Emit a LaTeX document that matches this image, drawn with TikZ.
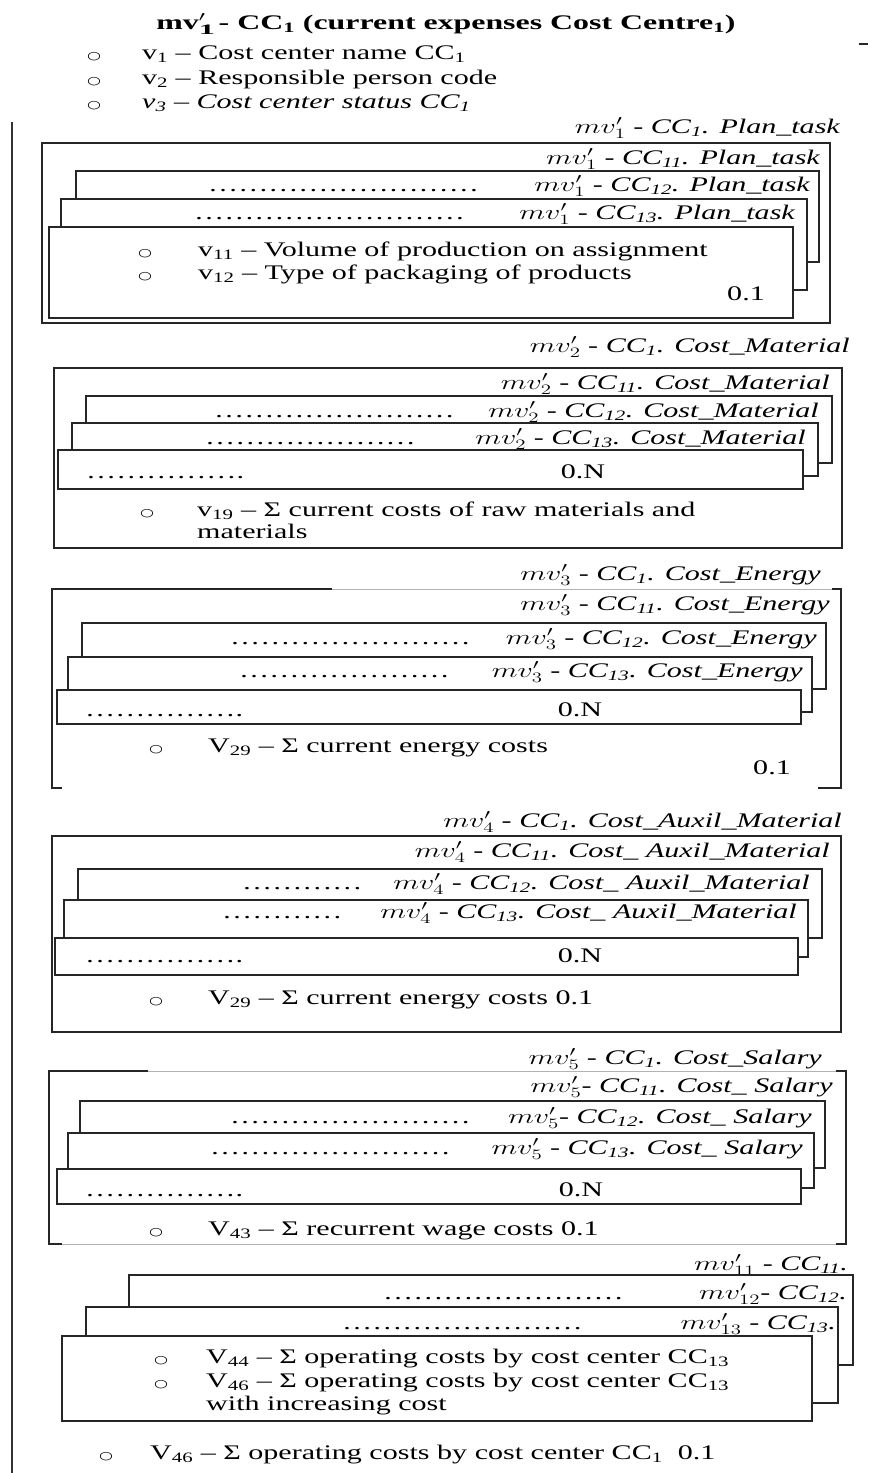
\documentclass[tikz,border=0pt]{standalone}
\usepackage{fontspec}
\usepackage{graphicx}
\setmainfont{Liberation Serif}[FakeStretch=1.45]
\newfontfamily\symfont{DejaVu Sans}[FakeStretch=1.45]
\newcommand{\mvp}[1]{\scalebox{1.45}[1]{$mv'_{#1}$}}
\newcommand{\lo}[1]{\textsubscript{#1}}
\newcommand{\bul}{{\symfont\fontsize{11}{11}\selectfont ○}}
\newcommand{\dotsrow}[1]{\foreach \k in {1,...,#1}{…}}
\tikzset{
  card/.style={draw=black!85, line width=1.1pt, fill=white},
  frame/.style={draw=black!85, line width=1.1pt},
  faint/.style={draw=black!30, line width=0.9pt},
  lbl/.style={inner sep=0pt, anchor=base east, font=\huge\itshape},
  txt/.style={inner sep=0pt, anchor=base west, font=\huge},
  bull/.style={inner sep=0pt, anchor=base}
}
\begin{document}
\begin{tikzpicture}[x=1pt, y=-1pt]
\useasboundingbox (0,0) rectangle (871,1473);

% Cabecera
\node[txt, anchor=base, font=\huge\bfseries] (title) at (446,29)
  {\scalebox{1.06}[1]{mv\scalebox{1.45}[1]{$'_{\mathbf{1}}$} - CC\lo{1} (current expenses Cost Centre\lo{1})}};
\node[bull] (b1) at (94,59) {\bul};
\node[txt] (v1) at (142,59) {v\lo{1} -- Cost center name CC\lo{1}};
\node[bull] (b2) at (94,84) {\bul};
\node[txt] (v2) at (142,84) {v\lo{2} -- Responsible person code};
\node[bull] (b3) at (94,108) {\bul};
\node[txt, font=\huge\itshape] (v3) at (142,108) {v\lo{3} -- Cost center status CC\lo{1}};
\draw[frame] (859,44) -- (868,44);

% Linea vertical
\draw[draw=black!80, line width=1.5pt] (12,122) -- (12,1473);

% Plan_task
\node[lbl] (pt) at (840,133) {\mvp{1} - CC\lo{1}. Plan\_task};
\draw[frame] (42,143) rectangle (830,323);
\node[lbl] (pt11) at (820,164) {\mvp{1} - CC\lo{11}. Plan\_task};
\draw[card] (76,171) rectangle (819,262);
\node[txt] (ptd12) at (208,191) {\dotsrow{9}};
\node[lbl] (pt12) at (810,191) {\mvp{1} - CC\lo{12}. Plan\_task};
\draw[card] (61,199) rectangle (807,290);
\node[txt] (ptd13) at (194,219) {\dotsrow{9}};
\node[lbl] (pt13) at (795,219) {\mvp{1} - CC\lo{13}. Plan\_task};
\draw[card] (49,227) rectangle (793,318);
\node[bull] (pb1) at (145,256) {\bul};
\node[txt] (v11) at (198,256) {v\lo{11} -- Volume of production on assignment};
\node[bull] (pb2) at (145,279) {\bul};
\node[txt] (v12) at (198,279) {v\lo{12} -- Type of packaging of products};
\node[txt, anchor=base east] (pt01) at (765,300) {0.1};

% Cost_Material
\node[lbl] (cm) at (850,352) {\mvp{2} - CC\lo{1}. Cost\_Material};
\draw[frame] (54,368) rectangle (842,548);
\node[lbl] (cm11) at (830,389) {\mvp{2} - CC\lo{11}. Cost\_Material};
\draw[card] (86,396) rectangle (832,463);
\node[txt] (cmd12) at (214,417) {\dotsrow{8}};
\node[lbl] (cm12) at (819,417) {\mvp{2} - CC\lo{12}. Cost\_Material};
\draw[card] (72,423) rectangle (818,476);
\node[txt] (cmd13) at (205,444) {\dotsrow{7}};
\node[lbl] (cm13) at (806,444) {\mvp{2} - CC\lo{13}. Cost\_Material};
\draw[card] (58,450) rectangle (803,489);
\node[txt] (cmd) at (86,478) {\dotsrow{5}.};
\node[txt, anchor=base] (cm0N) at (583,478) {0.N};
\node[bull] (cb1) at (147,516) {\bul};
\node[txt] (v19) at (197,516) {v\lo{19} -- Σ current costs of raw materials and};
\node[txt] (v19b) at (197,538) {materials};

% Cost_Energy
\node[lbl] (ce) at (821,580) {\mvp{3} - CC\lo{1}. Cost\_Energy};
\draw[frame] (62,788) -- (52,788) -- (52,589) -- (332,589);
\draw[faint] (332,589) -- (832,589);
\draw[frame] (832,589) -- (841,589) -- (841,788) -- (818,788);
\node[lbl] (ce11) at (830,610) {\mvp{3} - CC\lo{11}. Cost\_Energy};
\draw[card] (82,623) rectangle (826,689);
\node[txt] (ced12) at (230,644) {\dotsrow{8}};
\node[lbl] (ce12) at (817,644) {\mvp{3} - CC\lo{12}. Cost\_Energy};
\draw[card] (68,657) rectangle (812,712);
\node[txt] (ced13) at (239,677) {\dotsrow{7}};
\node[lbl] (ce13) at (803,677) {\mvp{3} - CC\lo{13}. Cost\_Energy};
\draw[card] (57,690) rectangle (801,724);
\node[txt] (ced) at (85,716) {\dotsrow{5}.};
\node[txt, anchor=base] (ce0N) at (580,716) {0.N};
\node[bull] (eb1) at (156,752) {\bul};
\node[txt] (v29) at (208,752) {V\lo{29} -- Σ current energy costs};
\node[txt, anchor=base east] (ce01) at (791,774) {0.1};

% Cost_Auxil_Material
\node[lbl] (am) at (842,827) {\mvp{4} - CC\lo{1}. Cost\_Auxil\_Material};
\draw[frame] (52,836) rectangle (841,1032);
\node[lbl] (am11) at (830,857) {\mvp{4} - CC\lo{11}. Cost\_ Auxil\_Material};
\draw[card] (78,869) rectangle (822,938);
\node[txt] (amd12) at (242,889) {\dotsrow{4}};
\node[lbl] (am12) at (810,889) {\mvp{4} - CC\lo{12}. Cost\_ Auxil\_Material};
\draw[card] (64,900) rectangle (808,957);
\node[txt] (amd13) at (222,918) {\dotsrow{4}};
\node[lbl] (am13) at (797,918) {\mvp{4} - CC\lo{13}. Cost\_ Auxil\_Material};
\draw[card] (55,938) rectangle (798,975);
\node[txt] (amd) at (85,962) {\dotsrow{5}.};
\node[txt, anchor=base] (am0N) at (580,962) {0.N};
\node[bull] (ab1) at (156,1004) {\bul};
\node[txt] (v29b) at (208,1004) {V\lo{29} -- Σ current energy costs 0.1};

% Cost_Salary
\node[lbl] (cs) at (822,1064) {\mvp{5} - CC\lo{1}. Cost\_Salary};
\draw[frame] (148,1071) -- (49,1071) -- (49,1244) -- (62,1244);
\draw[faint] (148,1071) -- (836,1071);
\draw[faint] (62,1244) -- (836,1244);
\draw[frame] (836,1071) -- (846,1071) -- (846,1244) -- (836,1244);
\node[lbl] (cs11) at (833,1092) {\mvp{5}- CC\lo{11}. Cost\_ Salary};
\draw[card] (80,1101) rectangle (825,1168);
\node[txt] (csd12) at (230,1123) {\dotsrow{8}};
\node[lbl] (cs12) at (812,1123) {\mvp{5}- CC\lo{12}. Cost\_ Salary};
\draw[card] (68,1133) rectangle (814,1188);
\node[txt] (csd13) at (210,1154) {\dotsrow{8}};
\node[lbl] (cs13) at (803,1154) {\mvp{5} - CC\lo{13}. Cost\_ Salary};
\draw[card] (57,1169) rectangle (801,1204);
\node[txt] (csd) at (85,1196) {\dotsrow{5}.};
\node[txt, anchor=base] (cs0N) at (581,1196) {0.N};
\node[bull] (sb1) at (156,1235) {\bul};
\node[txt] (v43) at (208,1235) {V\lo{43} -- Σ recurrent wage costs 0.1};

% Centros CC11 - CC13
\node[lbl] (cc11) at (848,1270) {\mvp{11} - CC\lo{11}.};
\draw[card] (129,1275) rectangle (853,1365);
\node[txt] (ccd12) at (383,1299) {\dotsrow{8}};
\node[lbl] (cc12) at (847,1299) {\mvp{12}- CC\lo{12}.};
\draw[card] (86,1307) rectangle (838,1403);
\node[txt] (ccd13) at (342,1329) {\dotsrow{8}};
\node[lbl] (cc13) at (836,1329) {\mvp{13} - CC\lo{13}.};
\draw[card] (62,1336) rectangle (812,1421);
\node[bull] (ob1) at (161,1363) {\bul};
\node[txt] (v44) at (206,1363) {V\lo{44} -- Σ operating costs by cost center CC\lo{13}};
\node[bull] (ob2) at (161,1387) {\bul};
\node[txt] (v46) at (206,1387) {V\lo{46} -- Σ operating costs by cost center CC\lo{13}};
\node[txt] (v46b) at (206,1410) {with increasing cost};

% Total
\node[bull] (tb1) at (106,1459) {\bul};
\node[txt] (v46t) at (150,1459) {V\lo{46} -- Σ operating costs by cost center CC\lo{1}\ \ 0.1};

\end{tikzpicture}
\end{document}
